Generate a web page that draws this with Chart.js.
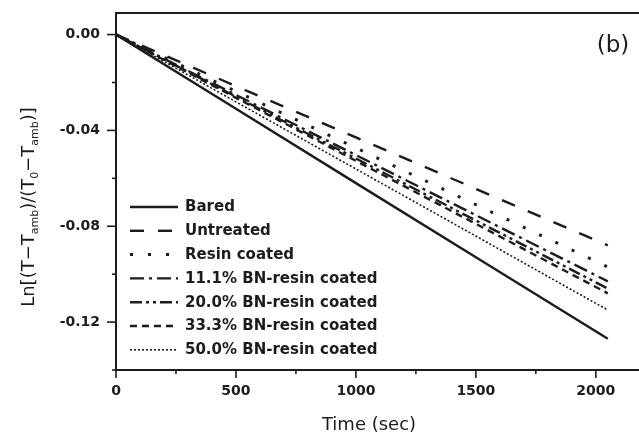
<!DOCTYPE html>
<html>
<head>
<meta charset="utf-8">
<script src="https://cdn.jsdelivr.net/npm/chart.js@4/dist/chart.umd.min.js"></script>
<style>
  html, body { margin: 0; padding: 0; background: #ffffff; }
  #wrap { width: 639px; height: 438px; }
</style>
</head>
<body>
<div id="wrap"><canvas id="c" width="639" height="438"></canvas></div>
<script>
// ---- data ----
const times       = [0, 500, 1000, 1500, 2050];
const bared       = [0, -0.0310, -0.0620, -0.0929, -0.127];
const untreated   = [0, -0.0215, -0.0429, -0.0644, -0.088];
const resinCoated = [0, -0.0237, -0.0473, -0.0710, -0.097];
const bn111       = [0, -0.0252, -0.0503, -0.0754, -0.103];
const bn200       = [0, -0.0259, -0.0517, -0.0776, -0.106];
const bn333       = [0, -0.0264, -0.0527, -0.0790, -0.108];
const bn500       = [0, -0.0281, -0.0561, -0.0841, -0.115];

const seriesNames = ['Bared', 'Untreated', 'Resin coated', '11.1% BN-resin coated',
                     '20.0% BN-resin coated', '33.3% BN-resin coated', '50.0% BN-resin coated'];
const seriesValues = [bared, untreated, resinCoated, bn111, bn200, bn333, bn500];

const xTicks = [0, 250, 500, 750, 1000, 1250, 1500, 1750, 2000];
const xLabelled = [0, 500, 1000, 1500, 2000];
const yTicks = [-0.14, -0.12, -0.10, -0.08, -0.06, -0.04, -0.02, 0];
const yLabelled = [-0.12, -0.08, -0.04, 0];

// ---- styles ----
const INK = '#1c1c1c';
const styles = [
  { w: 2.4, dash: [] },
  { w: 2.4, dash: [14, 14] },
  { w: 3.0, dash: [3, 15] },
  { w: 2.4, dash: [14, 5, 3, 5] },
  { w: 2.4, dash: [12, 4, 3, 4, 3, 4] },
  { w: 2.4, dash: [7, 5] },
  { w: 1.6, dash: [2, 2] }
];

const datasets = seriesNames.map((name, i) => ({
  label: name,
  data: times.map((t, k) => ({ x: t, y: seriesValues[i][k] })),
  borderColor: INK,
  borderWidth: styles[i].w,
  borderDash: styles[i].dash,
  pointRadius: 0,
  fill: false,
  tension: 0
}));

const isLabelled = (arr, v) => arr.some(a => Math.abs(a - v) < 1e-9);

const decor = {
  id: 'decor',
  afterDraw(chart) {
    const ctx = chart.ctx;
    const ca = chart.chartArea;
    const xs = chart.scales.x, ys = chart.scales.y;
    ctx.save();
    ctx.strokeStyle = INK;
    // top frame line
    ctx.lineWidth = 2;
    ctx.beginPath();
    ctx.moveTo(ca.left - 1, ca.top);
    ctx.lineTo(ca.right, ca.top);
    ctx.stroke();
    // tick marks
    ctx.lineWidth = 1.6;
    yTicks.forEach(v => {
      const y = ys.getPixelForValue(v);
      const len = isLabelled(yLabelled, v) ? 9 : 4;
      ctx.beginPath();
      ctx.moveTo(ca.left - len, y);
      ctx.lineTo(ca.left, y);
      ctx.stroke();
    });
    xTicks.forEach(v => {
      const x = xs.getPixelForValue(v);
      const len = isLabelled(xLabelled, v) ? 8 : 4;
      ctx.beginPath();
      ctx.moveTo(x, ca.bottom);
      ctx.lineTo(x, ca.bottom + len);
      ctx.stroke();
    });
    // panel label
    ctx.fillStyle = INK;
    ctx.font = '23px "DejaVu Sans"';
    ctx.textAlign = 'center';
    ctx.textBaseline = 'middle';
    ctx.fillText('(b)', 613, 46);
    // x title
    ctx.font = '18px "DejaVu Sans"';
    ctx.fillText('Time (sec)', 369, 425);
    // y title with subscripts, rotated
    const parts = [
      ['Ln[(T−T', false], ['amb', true], [')/(T', false], ['0', true],
      ['−T', false], ['amb', true], [')]', false]
    ];
    const fMain = '18px "DejaVu Sans"', fSub = '11px "DejaVu Sans"';
    let total = 0;
    parts.forEach(p => { ctx.font = p[1] ? fSub : fMain; total += ctx.measureText(p[0]).width; });
    ctx.translate(0, 207);
    ctx.rotate(-Math.PI / 2);
    ctx.textAlign = 'left';
    ctx.textBaseline = 'alphabetic';
    let u = -total / 2;
    parts.forEach(p => {
      ctx.font = p[1] ? fSub : fMain;
      ctx.fillText(p[0], u, p[1] ? 38 : 33.5);
      u += ctx.measureText(p[0]).width;
    });
    ctx.setTransform(1, 0, 0, 1, 0, 0);
    // legend
    const rowY = 207, rowStep = 23.8;
    ctx.font = 'bold 15px "DejaVu Sans"';
    ctx.textBaseline = 'middle';
    chart.data.datasets.forEach((ds, i) => {
      const y = rowY + i * rowStep;
      ctx.lineWidth = ds.borderWidth;
      ctx.setLineDash(ds.borderDash);
      ctx.beginPath();
      ctx.moveTo(130, y);
      ctx.lineTo(178, y);
      ctx.stroke();
      ctx.setLineDash([]);
      ctx.fillText(ds.label, 185, y + 0.5);
    });
    ctx.restore();
  }
};

new Chart(document.getElementById('c'), {
  type: 'line',
  data: { datasets },
  options: {
    responsive: false,
    animation: false,
    devicePixelRatio: 1,
    layout: { padding: { top: 13, right: 0, left: 0, bottom: 0 } },
    plugins: { legend: { display: false }, tooltip: { enabled: false } },
    scales: {
      x: {
        type: 'linear',
        min: 0,
        max: 2180,
        afterBuildTicks: s => { s.ticks = xTicks.map(v => ({ value: v })); },
        afterFit: s => { s.height = 68; },
        grid: { display: true, drawOnChartArea: false, drawTicks: true, tickLength: 13, tickColor: 'rgba(0,0,0,0)' },
        border: { display: true, color: INK, width: 2 },
        ticks: {
          autoSkip: false, maxRotation: 0, padding: 0, color: INK,
          font: { family: 'DejaVu Sans', size: 14, weight: 'bold' },
          callback: v => isLabelled(xLabelled, v) ? String(v) : ''
        }
      },
      y: {
        type: 'linear',
        min: -0.14,
        max: 0.009,
        afterBuildTicks: s => { s.ticks = yTicks.map(v => ({ value: v })); },
        afterFit: s => { s.width = 116; },
        grid: { display: true, drawOnChartArea: false, drawTicks: true, tickLength: 16, tickColor: 'rgba(0,0,0,0)' },
        border: { display: true, color: INK, width: 2 },
        ticks: {
          autoSkip: false, padding: 0, color: INK,
          font: { family: 'DejaVu Sans', size: 14, weight: 'bold' },
          callback: v => isLabelled(yLabelled, v) ? v.toFixed(2) : ''
        }
      }
    }
  },
  plugins: [decor]
});
</script>
</body>
</html>
